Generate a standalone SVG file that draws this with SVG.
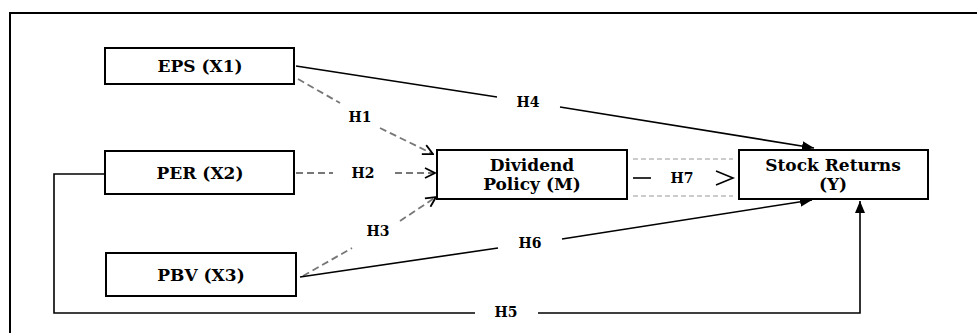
<svg xmlns="http://www.w3.org/2000/svg" width="977" height="333" viewBox="0 0 977 333">
<defs>
<style>
.box{fill:#fff;stroke:#000;stroke-width:2}
.nt{font-family:"DejaVu Serif","Liberation Serif",serif;font-weight:bold;font-size:17px;fill:#000;text-anchor:middle}
.lb{font-family:"DejaVu Serif","Liberation Serif",serif;font-weight:bold;font-size:14px;fill:#000;text-anchor:middle}
.solid{fill:none;stroke:#000;stroke-width:1.6}
.dash{fill:none;stroke:#777;stroke-width:1.8;stroke-dasharray:7,4}
.fine{fill:none;stroke:#999;stroke-width:1.2;stroke-dasharray:5,3}
</style>
<marker id="fill" viewBox="0 0 12 10" refX="12" refY="5" markerWidth="12" markerHeight="10" markerUnits="userSpaceOnUse" orient="auto">
<path d="M0,0 L12,5 L0,10 Z" fill="#000"/>
</marker>
<marker id="open" viewBox="0 0 12 12" refX="11" refY="6" markerWidth="12" markerHeight="12" markerUnits="userSpaceOnUse" orient="auto">
<path d="M1,1 L11,6 L1,11" fill="none" stroke="#000" stroke-width="1.8"/>
</marker>
</defs>
<rect width="977" height="333" fill="#fff"/>
<path d="M10,340 L10,13 L980,13" fill="none" stroke="#000" stroke-width="2"/>

<g id="connectors">
<line class="dash" x1="298" y1="79" x2="340" y2="103"/>
<line class="dash" x1="380" y1="128" x2="433" y2="154" marker-end="url(#open)"/>
<text class="lb" x="360" y="122">H1</text>
<line class="dash" x1="296" y1="173" x2="333" y2="173"/>
<line class="dash" x1="395" y1="173" x2="435" y2="173" marker-end="url(#open)"/>
<text class="lb" x="363" y="178">H2</text>
<line class="dash" x1="303" y1="276" x2="352" y2="248"/>
<line class="dash" x1="400" y1="221" x2="436" y2="197" marker-end="url(#open)"/>
<text class="lb" x="378" y="236">H3</text>
<line class="solid" x1="296" y1="66" x2="497" y2="97"/>
<line class="solid" x1="560" y1="107" x2="814" y2="148" marker-end="url(#fill)"/>
<text class="lb" x="528" y="107">H4</text>
<line class="solid" x1="300" y1="277" x2="498" y2="248"/>
<line class="solid" x1="562" y1="239" x2="812" y2="200" marker-end="url(#fill)"/>
<text class="lb" x="530" y="248">H6</text>
<path class="solid" d="M105,174 L54,174 L54,313 L475,313" stroke-width="1.3"/>
<path class="solid" d="M538,313 L860,313 L860,201" marker-end="url(#fill)"/>
<text class="lb" x="506" y="317">H5</text>
<line class="fine" x1="633" y1="159" x2="733" y2="159"/>
<line class="fine" x1="633" y1="196" x2="733" y2="196"/>
<line class="solid" x1="633" y1="178" x2="651" y2="178"/>
<path d="M716,171 L733,178 L716,185" fill="none" stroke="#000" stroke-width="1.6"/>
<text class="lb" x="682" y="183">H7</text>
</g>

<g id="eps">
<rect class="box" x="105" y="48" width="189" height="36"/>
<text class="nt" x="200" y="72">EPS (X1)</text>
</g>
<g id="per">
<rect class="box" x="105" y="151" width="189" height="43"/>
<text class="nt" x="200" y="179">PER (X2)</text>
</g>
<g id="pbv">
<rect class="box" x="106" y="253" width="190" height="43"/>
<text class="nt" x="201" y="281">PBV (X3)</text>
</g>
<g id="dividend">
<rect class="box" x="437" y="150" width="190" height="49"/>
<text class="nt" x="532" y="171">Dividend</text>
<text class="nt" x="532" y="190">Policy (M)</text>
</g>
<g id="returns">
<rect class="box" x="739" y="150" width="189" height="49"/>
<text class="nt" x="833" y="171">Stock Returns</text>
<text class="nt" x="833" y="190">(Y)</text>
</g>
</svg>
